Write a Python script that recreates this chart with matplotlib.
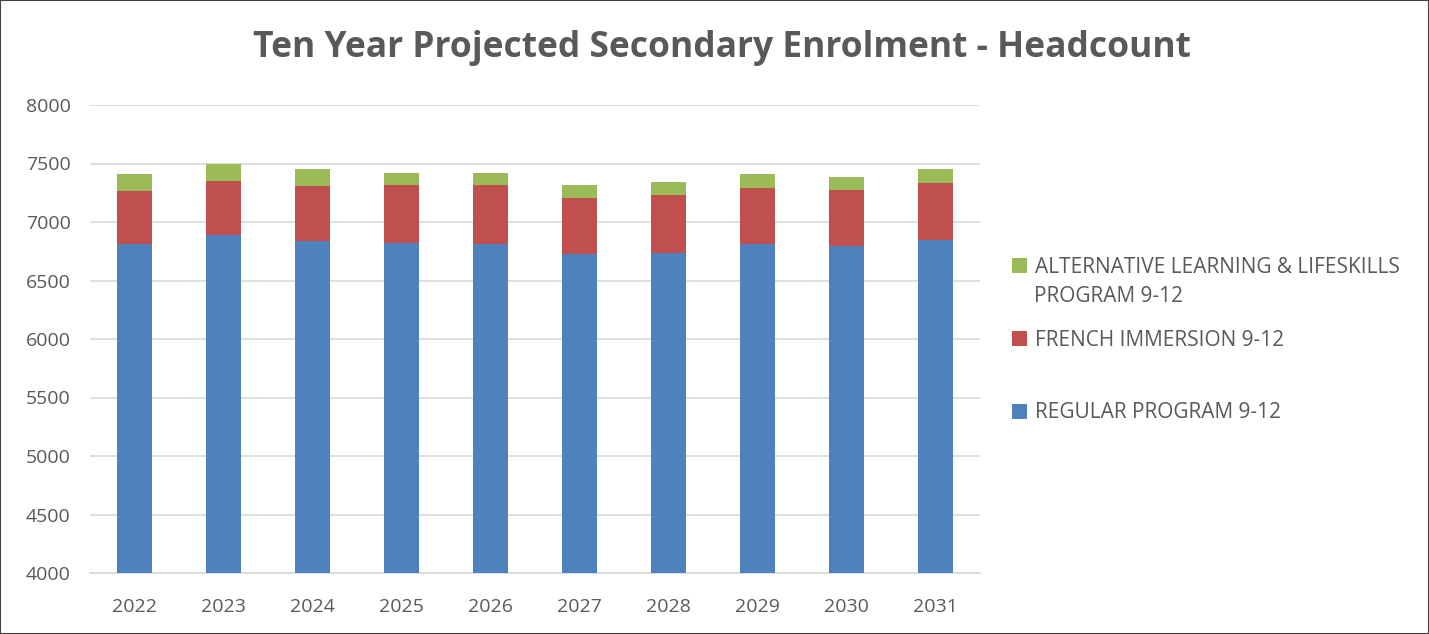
import numpy as np
import matplotlib.pyplot as plt
from matplotlib.patches import Rectangle

years = ['2022', '2023', '2024', '2025', '2026', '2027', '2028', '2029', '2030', '2031']
regular = [6811, 6889, 6837, 6820, 6811, 6726, 6737, 6808, 6794, 6842]
french = [458, 463, 472, 497, 501, 483, 497, 486, 477, 495]
alternative = [145, 142, 142, 106, 108, 111, 112, 112, 112, 112]

c_reg = '#4f81bd'
c_fr = '#c0504d'
c_alt = '#9bbb59'
grey = '#595959'

plt.rcParams['font.family'] = ['Open Sans', 'DejaVu Sans']

fig = plt.figure(figsize=(14.29, 6.34), dpi=100)
ax = fig.add_axes([90/1429, 1-573/634, 890/1429, 468/634])

x = np.arange(len(years))
w = 0.4
reg = np.array(regular)
fr = np.array(french)
alt = np.array(alternative)
b1 = ax.bar(x, reg, w, color=c_reg, zorder=3)
b2 = ax.bar(x, fr, w, bottom=reg, color=c_fr, zorder=3)
b3 = ax.bar(x, alt, w, bottom=reg + fr, color=c_alt, zorder=3)

ax.set_xlim(-0.5, len(years) - 0.5)
ax.set_ylim(4000, 8000)
ax.set_yticks(range(4000, 8001, 500))
ax.set_xticks(x)
ax.set_xticklabels(years)
ax.tick_params(axis='both', length=0, labelsize=14, colors=grey)
ax.tick_params(axis='x', pad=18)
ax.tick_params(axis='y', pad=14)
ax.grid(axis='y', color='#d9d9d9', linewidth=1.2, zorder=0)
for s in ['top', 'right', 'left']:
    ax.spines[s].set_visible(False)
ax.spines['bottom'].set_color('#d9d9d9')
ax.spines['bottom'].set_linewidth(1.2)

fig.text(0.505, 1-48/634, 'Ten Year Projected Secondary Enrolment - Headcount',
         ha='center', va='center', fontsize=25.5, fontweight='bold', color=grey)

# legend entries placed one by one (Excel spacing is uneven)
entries = [(b3, 'ALTERNATIVE LEARNING & LIFESKILLS', 267),
           (b2, 'FRENCH IMMERSION 9-12', 340),
           (b1, 'REGULAR PROGRAM 9-12', 413)]
for handle, label, yc in entries:
    leg = fig.legend([handle], [label], loc='center left',
                     bbox_to_anchor=(1012/1429, 1-yc/634), frameon=False,
                     fontsize=15, handlelength=0.7, handleheight=0.7,
                     handletextpad=0.4, borderaxespad=0, borderpad=0)
    for t in leg.get_texts():
        t.set_color(grey)
# wrapped second line of the first legend label
fig.text(1034/1429, 1-296/634, 'PROGRAM 9-12', ha='left', va='center',
         fontsize=15, color=grey)

fig.patches.append(Rectangle((0, 0), 1, 1, transform=fig.transFigure, fill=False,
                             edgecolor='#404040', linewidth=1.5))

fig.savefig('out.png', dpi=100)
